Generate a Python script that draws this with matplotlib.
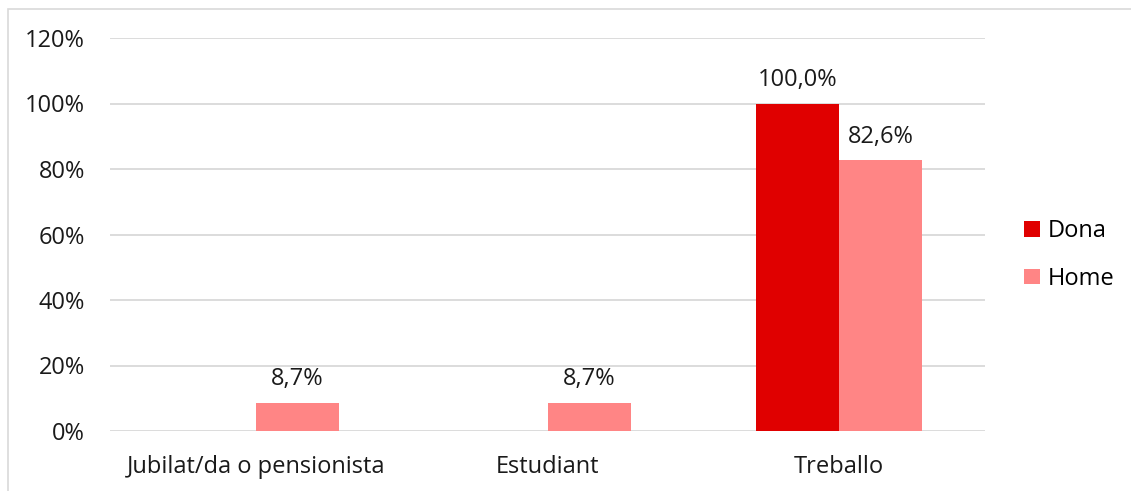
import numpy as np
import matplotlib
matplotlib.use("Agg")
import matplotlib.pyplot as plt
import matplotlib.patches as patches

plt.rcParams['font.family'] = ['Open Sans', 'DejaVu Sans']

# --- Dades ---
categories = ["Jubilat/da o pensionista", "Estudiant", "Treballo"]
dona = [0.0, 0.0, 100.0]
home = [8.7, 8.7, 82.6]
yticks = [0, 20, 40, 60, 80, 100, 120]

color_dona = "#E00000"
color_home = "#FF8585"
grid_color = "#D9D9D9"
fs = 17

fig = plt.figure(figsize=(11.31, 4.91), dpi=100)
W, H = 1131, 491
ax = fig.add_axes([110 / W, 1 - 431 / H, (985 - 110) / W, (431 - 38) / H])

x = np.arange(len(categories))
bw = 0.285

bars_d = ax.bar(x - bw / 2, dona, bw, color=color_dona, label="Dona")
bars_h = ax.bar(x + bw / 2, home, bw, color=color_home, label="Home")

def etiqueta(v):
    return f"{v:.1f}".replace(".", ",") + "%"

for bars, vals in [(bars_d, dona), (bars_h, home)]:
    for b, v in zip(bars, vals):
        if v > 0:
            ax.annotate(etiqueta(v), (b.get_x() + b.get_width() / 2, v),
                        xytext=(0, 8), textcoords="offset points",
                        ha="center", va="bottom", fontsize=fs, color="#1a1a1a")

ax.set_xlim(-0.5, len(categories) - 0.5)
ax.set_ylim(0, 120)
ax.set_yticks(yticks)
ax.set_yticklabels([f"{t}%" for t in yticks])
ax.set_xticks(x)
ax.set_xticklabels(categories)
ax.tick_params(axis="both", length=0, labelsize=fs, colors="#1a1a1a")
ax.tick_params(axis="y", pad=18)
ax.tick_params(axis="x", pad=17)

ax.yaxis.grid(True, color=grid_color, linewidth=1.3)
ax.set_axisbelow(True)
for s in ax.spines.values():
    s.set_visible(False)

leg = fig.legend(handles=[bars_d, bars_h], labels=["Dona", "Home"],
                 loc="center left", bbox_to_anchor=(1003 / W, 1 - 255 / H),
                 frameon=False, fontsize=fs, handlelength=0.65, handleheight=0.65,
                 handletextpad=0.35, labelspacing=1.0)

# marc del gràfic
fig.patches.append(patches.Rectangle((8 / W, -0.1), 1.2, 1 - 9 / H + 0.1,
                                     transform=fig.transFigure, fill=False,
                                     edgecolor="#D9D9D9", linewidth=1.2))

fig.savefig("out.png", dpi=100)
